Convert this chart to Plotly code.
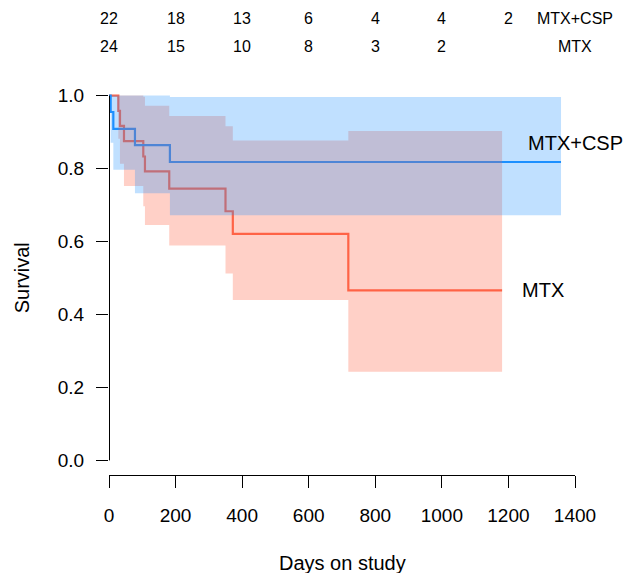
import plotly.graph_objects as go

# Kaplan-Meier estimates
csp_time = [0, 5, 13, 78, 183, 1358]
csp_surv = [1.0, 0.955, 0.909, 0.864, 0.818, 0.818]
csp_upper = [1.0, 1.0, 1.0, 1.0, 0.996, 0.996]
csp_lower = [1.0, 0.871, 0.797, 0.732, 0.672, 0.672]

mtx_time = [0, 28, 33, 45, 103, 108, 181, 350, 372, 719, 1181]
mtx_surv = [1.0, 0.958, 0.917, 0.875, 0.833, 0.792, 0.745, 0.683, 0.621, 0.466, 0.466]
mtx_upper = [1.0, 1.0, 1.0, 1.0, 0.997, 0.972, 0.944, 0.916, 0.877, 0.903, 0.903]
mtx_lower = [1.0, 0.882, 0.813, 0.752, 0.697, 0.645, 0.589, 0.512, 0.440, 0.243, 0.243]

# numbers at risk
risk_times = [0, 200, 400, 600, 800, 1000, 1200]
risk_csp = [22, 18, 13, 6, 4, 4, 2]
risk_mtx = [24, 15, 10, 8, 3, 2]

x_ticks = [0, 200, 400, 600, 800, 1000, 1200, 1400]
y_ticks = [0.0, 0.2, 0.4, 0.6, 0.8, 1.0]

BLUE = "rgb(30,144,255)"
RED = "rgb(255,99,71)"
BLUE_FILL = "rgba(30,144,255,0.28)"
RED_FILL = "rgba(255,99,71,0.30)"
FONT = "Liberation Sans, Arial, sans-serif"

fig = go.Figure()
# lines first (fills are laid over them, as in the reference)
fig.add_trace(go.Scatter(x=mtx_time, y=mtx_surv, mode="lines",
                         line=dict(color=RED, width=2.2, shape="hv"), hoverinfo="skip"))
fig.add_trace(go.Scatter(x=csp_time, y=csp_surv, mode="lines",
                         line=dict(color=BLUE, width=2.2, shape="hv"), hoverinfo="skip"))
# confidence bands
fig.add_trace(go.Scatter(x=mtx_time, y=mtx_lower, mode="lines",
                         line=dict(width=0, shape="hv", color=RED_FILL), hoverinfo="skip"))
fig.add_trace(go.Scatter(x=mtx_time, y=mtx_upper, mode="lines", fill="tonexty",
                         fillcolor=RED_FILL,
                         line=dict(width=0, shape="hv", color=RED_FILL), hoverinfo="skip"))
fig.add_trace(go.Scatter(x=csp_time, y=csp_lower, mode="lines",
                         line=dict(width=0, shape="hv", color=BLUE_FILL), hoverinfo="skip"))
fig.add_trace(go.Scatter(x=csp_time, y=csp_upper, mode="lines", fill="tonexty",
                         fillcolor=BLUE_FILL,
                         line=dict(width=0, shape="hv", color=BLUE_FILL), hoverinfo="skip"))

YMIN, YMAX = -0.04, 1.04
PLOT_W = 624 - 109 - 49

def ypaper(v):
    return (v - YMIN) / (YMAX - YMIN)

annotations = []
for t, n in zip(risk_times, risk_csp):
    annotations.append(dict(x=t, xref="x", y=ypaper(1.21), yref="paper", text=str(n),
                            showarrow=False, xanchor="center", yanchor="middle",
                            font=dict(size=16, color="black", family=FONT)))
for t, n in zip(risk_times, risk_mtx):
    annotations.append(dict(x=t, xref="x", y=ypaper(1.135), yref="paper", text=str(n),
                            showarrow=False, xanchor="center", yanchor="middle",
                            font=dict(size=16, color="black", family=FONT)))
annotations.append(dict(x=1.0, xref="paper", y=ypaper(1.21), yref="paper", text="MTX+CSP",
                        showarrow=False, xanchor="center", yanchor="middle",
                        font=dict(size=16, color="black", family=FONT)))
annotations.append(dict(x=1.0, xref="paper", y=ypaper(1.135), yref="paper", text="MTX",
                        showarrow=False, xanchor="center", yanchor="middle",
                        font=dict(size=16, color="black", family=FONT)))
# curve labels
annotations.append(dict(x=1253, xref="x", y=0.87, yref="y", text="MTX+CSP",
                        showarrow=False, xanchor="left", yanchor="middle",
                        font=dict(size=20, color="black", family=FONT)))
annotations.append(dict(x=1235, xref="x", y=0.466, yref="y", text="MTX",
                        showarrow=False, xanchor="left", yanchor="middle",
                        font=dict(size=20, color="black", family=FONT)))
# axis titles
annotations.append(dict(x=0.5, xref="paper", y=-0.223, yref="paper", text="Days on study",
                        showarrow=False, xanchor="center", yanchor="middle",
                        font=dict(size=20, color="black", family=FONT)))
annotations.append(dict(x=-0.186, xref="paper", y=ypaper(0.5), yref="paper", text="Survival",
                        showarrow=False, xanchor="center", yanchor="middle", textangle=-90,
                        font=dict(size=20, color="black", family=FONT)))

fig.update_layout(
    width=624, height=573,
    margin=dict(l=109, r=49, t=81, b=98),
    paper_bgcolor="white", plot_bgcolor="white",
    showlegend=False,
    font=dict(family=FONT, size=19, color="black"),
    annotations=annotations,
    shapes=[dict(type="line", xref="paper", x0=0.5 / PLOT_W, x1=0.5 / PLOT_W,
                 yref="y", y0=0, y1=1, layer="above",
                 line=dict(color="black", width=1))],
    xaxis=dict(range=[0, 1400], tickvals=x_ticks, ticktext=[str(v) for v in x_ticks],
               showgrid=False, zeroline=False, showline=True, linecolor="black", linewidth=1,
               ticks="outside", ticklen=12, tickcolor="black", tickwidth=1,
               ticklabelstandoff=11, tickfont=dict(size=19, family=FONT, color="black")),
    yaxis=dict(range=[YMIN, YMAX], tickvals=y_ticks, ticktext=["%.1f" % v for v in y_ticks],
               showgrid=False, zeroline=False, showline=False,
               ticks="outside", ticklen=12, tickcolor="black", tickwidth=1,
               ticklabelstandoff=8, tickfont=dict(size=19, family=FONT, color="black")),
)

fig.write_html("out.html")
